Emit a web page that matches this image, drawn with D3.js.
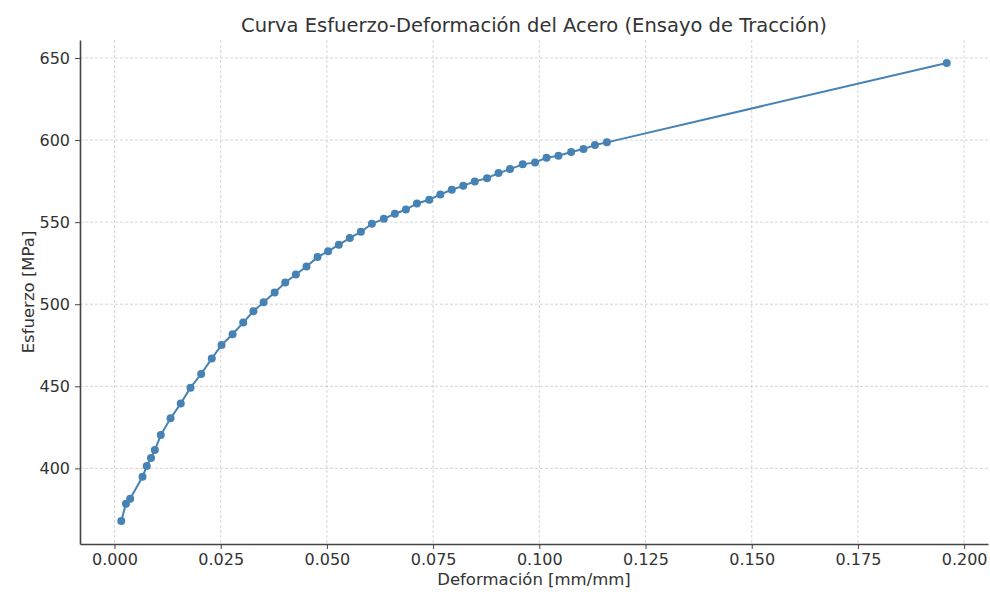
<!DOCTYPE html>
<html>
<head>
<meta charset="utf-8">
<script src="https://cdn.jsdelivr.net/npm/d3@7"></script>
<style>
  body { margin: 0; background: #fff; }
  text { font-family: "DejaVu Sans", sans-serif; }
</style>
</head>
<body>
<script>
const deformacion = [0.0016, 0.0027, 0.0037, 0.0066, 0.0076, 0.0086, 0.0095, 0.0109, 0.0132, 0.0156, 0.0179,
  0.0204, 0.0229, 0.0252, 0.0278, 0.0303, 0.0327, 0.0351, 0.0377, 0.0402, 0.0427, 0.0452, 0.0478, 0.0503,
  0.0528, 0.0554, 0.0580, 0.0606, 0.0634, 0.0660, 0.0686, 0.0712, 0.0741, 0.0767, 0.0794, 0.0821, 0.0848,
  0.0877, 0.0904, 0.0931, 0.0961, 0.0990, 0.1017, 0.1045, 0.1075, 0.1104, 0.1131, 0.1159, 0.1959]
const esfuerzo = [367.9, 378.5, 381.5, 394.9, 401.4, 406.3, 411.2, 420.3, 430.5, 439.5, 449.2,
  457.5, 466.9, 475.2, 481.7, 488.8, 495.7, 501.2, 507.1, 513.2, 518.1, 523.0, 528.7, 532.3,
  536.2, 540.4, 544.1, 549.0, 552.0, 555.1, 557.7, 561.4, 563.6, 566.9, 569.7, 572.1, 574.8,
  576.8, 579.9, 582.3, 585.2, 586.4, 589.2, 590.4, 592.7, 594.5, 597.0, 598.6, 647.0]
const xTicks = [0, 0.025, 0.05, 0.075, 0.1, 0.125, 0.15, 0.175, 0.2]
const yTicks = [400, 450, 500, 550, 600, 650]

const data = deformacion.map((d, i) => ({x: d, y: esfuerzo[i]}))

const W = 990, H = 594
const margin = {top: 40, right: 2, bottom: 50, left: 80}

const svg = d3.select('body').append('svg')
    .attr('width', W)
    .attr('height', H)

// page shadow on the left edge
const defs = svg.append('defs')
defs.append('filter').attr('id', 'blur')
  .append('feGaussianBlur').attr('stdDeviation', 1.5)
svg.append('line')
    .attr('x1', 10).attr('x2', 10)
    .attr('y1', 12).attr('y2', H)
    .attr('stroke', '#c8c8c8')
    .attr('stroke-width', 2.5)
    .attr('filter', 'url(#blur)')

const xExt = d3.extent(deformacion), yExt = d3.extent(esfuerzo)
const xPad = (xExt[1] - xExt[0]) * 0.05, yPad = (yExt[1] - yExt[0]) * 0.05

const xScale = d3.scaleLinear()
    .domain([xExt[0] - xPad, xExt[1] + xPad])
    .range([margin.left, W - margin.right])
const yScale = d3.scaleLinear()
    .domain([yExt[0] - yPad, yExt[1] + yPad])
    .range([H - margin.bottom, margin.top])

// grid
svg.append('g').selectAll('line').data(xTicks).enter().append('line')
    .attr('x1', d => xScale(d)).attr('x2', d => xScale(d))
    .attr('y1', margin.top).attr('y2', H - margin.bottom)
    .attr('stroke', '#cccccc').attr('stroke-width', 0.8)
    .attr('stroke-dasharray', '3,2')
svg.append('g').selectAll('line').data(yTicks).enter().append('line')
    .attr('x1', margin.left).attr('x2', W - margin.right)
    .attr('y1', d => yScale(d)).attr('y2', d => yScale(d))
    .attr('stroke', '#cccccc').attr('stroke-width', 0.8)
    .attr('stroke-dasharray', '3,2')

// axes
const xAxis = svg.append('g')
    .attr('transform', 'translate(0,' + (H - margin.bottom) + ')')
    .call(d3.axisBottom(xScale).tickValues(xTicks).tickFormat(d3.format('.3f')).tickSize(5).tickPadding(5).tickSizeOuter(0))
const yAxis = svg.append('g')
    .attr('transform', 'translate(' + margin.left + ',0)')
    .call(d3.axisLeft(yScale).tickValues(yTicks).tickSize(5).tickPadding(5).tickSizeOuter(0))

;[xAxis, yAxis].forEach(a => {
  a.select('.domain').attr('stroke', '#444').attr('stroke-width', 1.6)
  a.selectAll('.tick line').attr('stroke', '#444').attr('stroke-width', 1)
  a.selectAll('.tick text').attr('fill', '#333').attr('font-size', '16px')
    .attr('font-family', '"DejaVu Sans", sans-serif')
})

// line + points
const line = d3.line()
    .x(d => xScale(d.x))
    .y(d => yScale(d.y))
svg.append('path')
    .datum(data)
    .attr('d', line)
    .attr('fill', 'none')
    .attr('stroke', '#4682b4')
    .attr('stroke-width', 2)
svg.selectAll('.dot').data(data)
  .enter()
  .append('circle')
    .attr('cx', d => xScale(d.x))
    .attr('cy', d => yScale(d.y))
    .attr('r', 4)
    .attr('fill', '#4682b4')

// labels
svg.append('text')
    .attr('x', (margin.left + W - margin.right) / 2)
    .attr('y', 32)
    .attr('text-anchor', 'middle')
    .attr('font-size', '19.5px')
    .attr('fill', '#333')
    .text('Curva Esfuerzo-Deformación del Acero (Ensayo de Tracción)')
svg.append('text')
    .attr('x', (margin.left + W - margin.right) / 2)
    .attr('y', 585)
    .attr('text-anchor', 'middle')
    .attr('font-size', '16.5px')
    .attr('fill', '#333')
    .text('Deformación [mm/mm]')
svg.append('text')
    .attr('transform', 'translate(34,' + ((margin.top + H - margin.bottom) / 2) + ') rotate(-90)')
    .attr('text-anchor', 'middle')
    .attr('font-size', '16.5px')
    .attr('fill', '#333')
    .text('Esfuerzo [MPa]')
</script>
</body>
</html>
